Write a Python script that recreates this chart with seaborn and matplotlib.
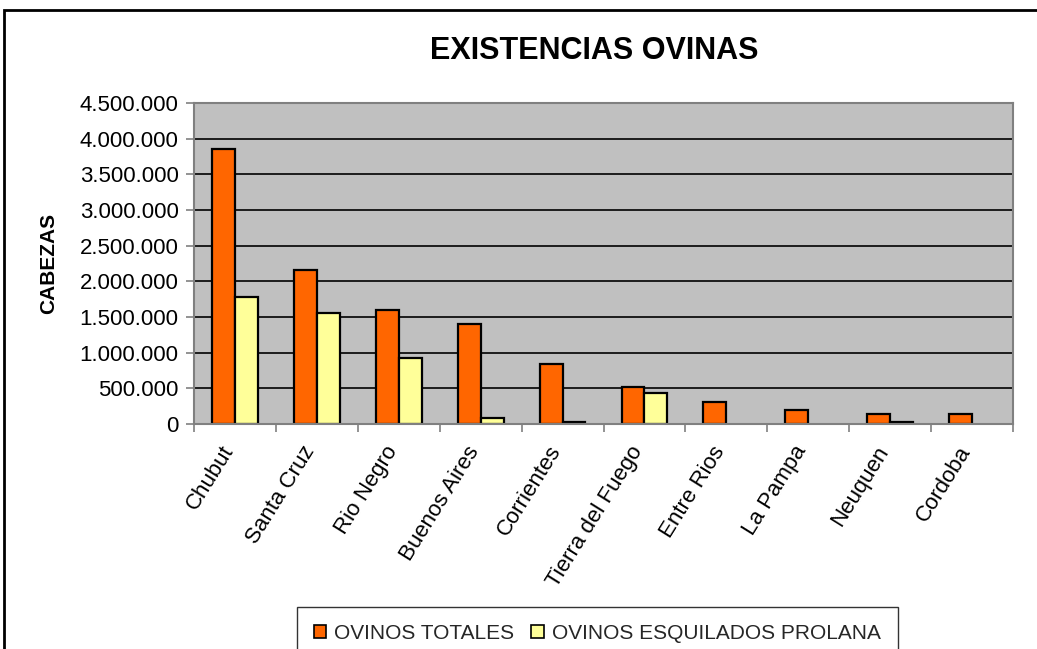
import matplotlib
matplotlib.use("Agg")
import matplotlib.pyplot as plt
import matplotlib.transforms as mtransforms
import seaborn as sns
import pandas as pd
from matplotlib.ticker import FuncFormatter, FixedLocator
from matplotlib.patches import Rectangle, Patch

provincias = ["Chubut", "Santa Cruz", "Rio Negro", "Buenos Aires", "Corrientes",
              "Tierra del Fuego", "Entre Rios", "La Pampa", "Neuquen", "Cordoba"]
ovinos_totales = [3860000, 2160000, 1605000, 1405000, 845000,
                  520000, 315000, 197000, 140000, 140000]
ovinos_prolana = [1780000, 1550000, 930000, 80000, 25000,
                  435000, 0, 0, 28000, 0]
series = ["OVINOS TOTALES", "OVINOS ESQUILADOS PROLANA"]
colores = ["#FF6600", "#FFFF99"]
y_ticks = [0, 500000, 1000000, 1500000, 2000000, 2500000, 3000000, 3500000, 4000000, 4500000]

df = pd.DataFrame({
    "provincia": provincias * 2,
    "serie": [series[0]] * len(provincias) + [series[1]] * len(provincias),
    "valor": ovinos_totales + ovinos_prolana,
})

sns.set_theme(style="white")
plt.rcParams["font.family"] = ["Liberation Sans", "DejaVu Sans"]

fig = plt.figure(figsize=(10.37, 6.49), dpi=100)
ax = fig.add_axes([194/1037, 1-424/649, (1013-194)/1037, (424-103)/649])
ax.set_facecolor("#C0C0C0")

sns.barplot(data=df, x="provincia", y="valor", hue="serie", order=provincias,
            hue_order=series, palette=colores, width=0.56, saturation=1,
            edgecolor="black", linewidth=1.6, ax=ax, legend=False)
for p in ax.patches:
    if p.get_height() == 0:
        p.set_visible(False)

ax.set_ylim(0, 4500000)
ax.set_xlim(-0.5, len(provincias) - 0.5)
ax.yaxis.set_major_locator(FixedLocator(y_ticks))
ax.yaxis.set_major_formatter(FuncFormatter(lambda v, p: f"{int(v):,}".replace(",", ".")))
ax.grid(False)
for v in y_ticks[1:-1]:
    ax.axhline(v, color="black", lw=1.2, zorder=0.5)
ax.set_axisbelow(True)

for s in ax.spines.values():
    s.set_color("#808080")
    s.set_linewidth(1.5)
    s.set_visible(True)

ax.tick_params(axis="y", direction="out", length=6, width=1.2, color="#808080",
               labelsize=16, pad=5, left=True, labelcolor="black")
ax.set_xticks(range(len(provincias)))
ax.set_xticklabels(provincias, rotation=58, ha="right", va="center",
                   rotation_mode="anchor", fontsize=16)
ax.tick_params(axis="x", which="major", length=0, pad=17, labelcolor="black")
shift = mtransforms.ScaledTranslation(-6/100, 0, fig.dpi_scale_trans)
for lab in ax.get_xticklabels():
    lab.set_transform(lab.get_transform() + shift)
ax.set_xticks([i - 0.5 for i in range(len(provincias) + 1)], minor=True)
ax.tick_params(axis="x", which="minor", direction="out", length=6, width=1.2,
               color="#808080", bottom=True)
ax.set_xlabel("")
ax.set_ylabel("CABEZAS", fontsize=15, fontweight="bold", color="black")
ax.yaxis.set_label_coords(-136/819, 0.5)

fig.text(594/1037, 1-51/649, "EXISTENCIAS OVINAS", ha="center", va="center",
         fontsize=22, fontweight="bold", color="black")

handles = [Patch(facecolor=c, edgecolor="black", linewidth=1.2) for c in colores]
leg = fig.legend(handles, series, loc="upper left", bbox_to_anchor=(297/1037, 1-607/649),
                 ncol=2, fontsize=15, frameon=True, fancybox=False, handlelength=0.6,
                 handleheight=0.6, handletextpad=0.4, columnspacing=0.8,
                 borderpad=0.8, borderaxespad=0)
leg.get_frame().set_edgecolor("black")
leg.get_frame().set_linewidth(1.0)

fig.patches.append(Rectangle((4/1037, -0.1), 1.1, 1.1 - 10/649,
                             transform=fig.transFigure, fill=False,
                             edgecolor="black", linewidth=2, zorder=-1))

fig.savefig("out.png", dpi=100)
